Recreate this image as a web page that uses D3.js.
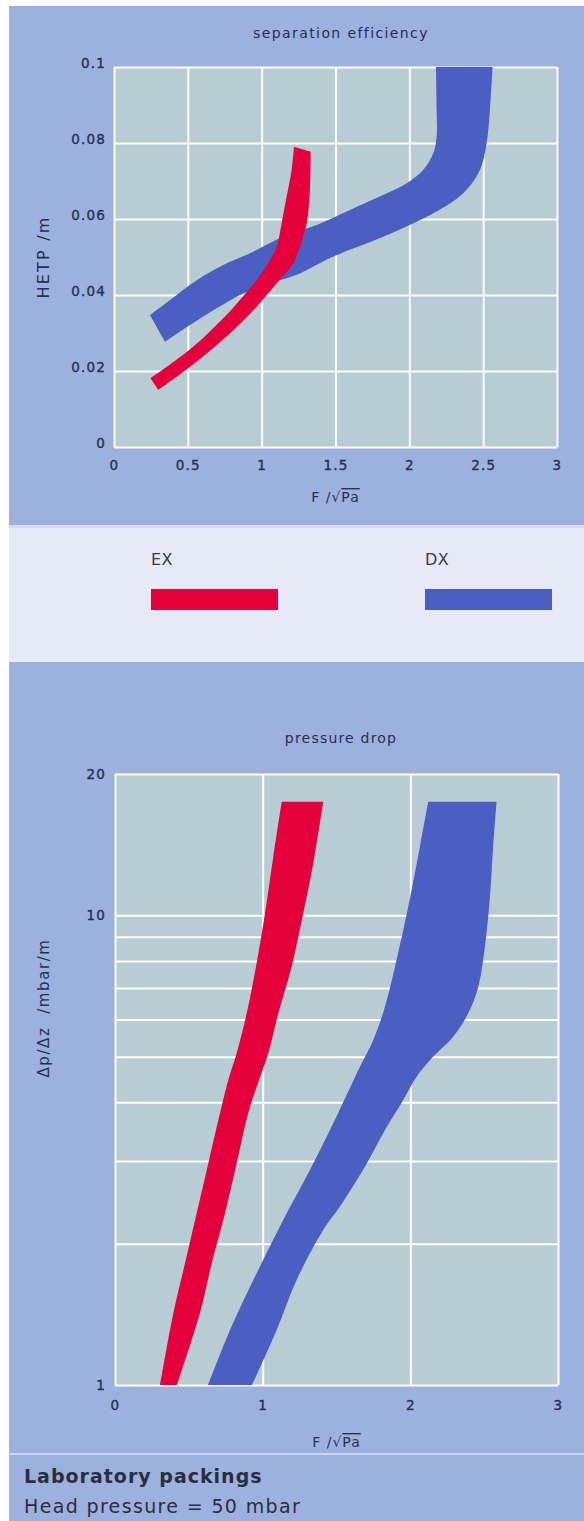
<!DOCTYPE html>
<html>
<head>
<meta charset="utf-8">
<script src="https://cdn.jsdelivr.net/npm/d3@7/dist/d3.min.js"></script>
<style>
  html, body { margin: 0; padding: 0; background: #ffffff; }
  svg { display: block; }
</style>
</head>
<body>
<svg id="chart" width="584" height="1521"></svg>
<script>
// ---- Separation efficiency: HETP band edges, [F-factor, HETP in m] ----
const efficiencyEXUpper = [
  [0.248, 0.0181], [0.515, 0.0257], [0.740, 0.0339], [0.853, 0.0387],
  [0.966, 0.0439], [1.056, 0.0492], [1.102, 0.0527], [1.135, 0.0589],
  [1.169, 0.0659], [1.203, 0.0729], [1.219, 0.0790]
];
const efficiencyEXLower = [
  [0.300, 0.0150], [0.515, 0.0211], [0.785, 0.0299], [0.966, 0.0369],
  [1.102, 0.0431], [1.214, 0.0483], [1.259, 0.0527], [1.305, 0.0589],
  [1.327, 0.0676], [1.332, 0.0777]
];
const efficiencyDXUpper = [
  [0.244, 0.0347], [0.379, 0.0387], [0.560, 0.0439], [0.740, 0.0479],
  [0.921, 0.0510], [1.146, 0.0553], [1.372, 0.0584], [1.598, 0.0624],
  [1.823, 0.0663], [1.982, 0.0694], [2.094, 0.0729], [2.162, 0.0773],
  [2.185, 0.0817], [2.185, 0.0887], [2.180, 0.1000]
];
const efficiencyDXLower = [
  [0.345, 0.0277], [0.515, 0.0321], [0.695, 0.0365], [0.875, 0.0404],
  [1.056, 0.0431], [1.237, 0.0453], [1.485, 0.0501], [1.823, 0.0553],
  [2.162, 0.0615], [2.365, 0.0668], [2.478, 0.0729], [2.523, 0.0799],
  [2.546, 0.0887], [2.564, 0.1000]
];

// ---- Pressure drop: band edges, [F-factor, dp/dz in mbar/m] ----
const pressureEXLeft = [
  [0.305, 1.00], [0.395, 1.421], [0.474, 1.816], [0.553, 2.321],
  [0.632, 2.966], [0.711, 3.790], [0.767, 4.462], [0.824, 5.087],
  [0.892, 6.186], [0.959, 7.907], [1.016, 10.10], [1.072, 13.34],
  [1.129, 17.46]
];
const pressureEXRight = [
  [0.420, 1.00], [0.575, 1.421], [0.655, 1.816], [0.745, 2.321],
  [0.824, 2.966], [0.902, 3.790], [0.975, 4.462], [1.038, 5.087],
  [1.106, 6.186], [1.196, 7.777], [1.275, 10.10], [1.343, 12.91],
  [1.410, 17.46]
];
const pressureDXLeft = [
  [0.630, 1.00], [0.779, 1.310], [0.959, 1.729], [1.139, 2.246],
  [1.320, 2.870], [1.478, 3.608], [1.659, 4.762],
  [1.749, 5.429], [1.828, 6.391], [1.896, 7.777], [1.952, 9.309],
  [2.009, 11.33], [2.065, 14.01], [2.121, 17.46]
];
const pressureDXRight = [
  [0.928, 1.00], [1.095, 1.310], [1.230, 1.673], [1.410, 2.138],
  [1.523, 2.398], [1.699, 2.941], [1.828, 3.491], [1.952, 4.045],
  [2.040, 4.520], [2.155, 5.003], [2.290, 5.516], [2.392, 6.186],
  [2.460, 7.050], [2.505, 8.579], [2.539, 10.96], [2.561, 14.01],
  [2.584, 17.46]
];

// ---- Ticks and labels ----
const efficiencyXTicks = [0, 0.5, 1, 1.5, 2, 2.5, 3];
const efficiencyYTicks = [0, 0.02, 0.04, 0.06, 0.08, 0.1];
const pressureXTicks = [0, 1, 2, 3];
const pressureYGrid = [1, 2, 3, 4, 5, 6, 7, 8, 9, 10, 20];
const pressureYLabels = [1, 10, 20];
const seriesNames = ["EX", "DX"];
const seriesColors = ["#e4003a", "#4a5fc1"];

const FONT = "'DejaVu Sans', 'Liberation Sans', sans-serif";
const INK = "#263050";
const PANEL = "#9db1de";
const PLOT_BG = "#b7cdd3";
const LEGEND_BG = "#e6e9f6";

const svg = d3.select("#chart");

// ---- Background panels ----
svg.append("rect").attr("x", 9).attr("y", 6).attr("width", 575).attr("height", 519).attr("fill", PANEL);
svg.append("rect").attr("x", 9).attr("y", 525).attr("width", 575).attr("height", 3).attr("fill", "#d6def1");
svg.append("rect").attr("x", 9).attr("y", 528).attr("width", 575).attr("height", 134).attr("fill", LEGEND_BG);
svg.append("rect").attr("x", 9).attr("y", 662).attr("width", 575).attr("height", 859).attr("fill", PANEL);
svg.append("rect").attr("x", 9).attr("y", 1453).attr("width", 575).attr("height", 2).attr("fill", "#c9d5ef");

// Builds a filled band from two edge polylines
function bandPath(x, y, edgeA, edgeB) {
  const line = d3.line()
    .x(d => x(d[0]))
    .y(d => y(d[1]))
    .curve(d3.curveCatmullRom.alpha(0.5));
  return line(edgeA) + line(edgeB.slice().reverse()).replace(/^M/, "L") + "Z";
}

function styleAxisText(sel, size) {
  sel.selectAll("text")
    .attr("fill", INK)
    .attr("stroke", INK)
    .attr("stroke-width", 0.35)
    .style("font-family", FONT)
    .style("font-size", size + "px")
    .style("letter-spacing", "1.2px");
}

// ================= Separation efficiency =================
{
  const x = d3.scaleLinear().domain([0, 3]).range([114, 557]);
  const y = d3.scaleLinear().domain([0, 0.1]).range([447, 67]);
  const g = svg.append("g");

  g.append("rect")
    .attr("x", x(0)).attr("y", y(0.1))
    .attr("width", x(3) - x(0)).attr("height", y(0) - y(0.1))
    .attr("fill", PLOT_BG);

  // vertical grid + x labels
  const xAxis = g.append("g")
    .attr("transform", `translate(0,${y(0)})`)
    .call(d3.axisBottom(x).tickValues(efficiencyXTicks)
      .tickSize(-(y(0) - y(0.1))).tickPadding(13)
      .tickFormat(d3.format("~g")));
  xAxis.select(".domain").remove();
  xAxis.selectAll("line").attr("stroke", "#ffffff").attr("stroke-width", 2);
  styleAxisText(xAxis, 13.5);

  // horizontal grid + y labels
  const yAxis = g.append("g")
    .attr("transform", `translate(${x(0)},0)`)
    .call(d3.axisLeft(y).tickValues(efficiencyYTicks)
      .tickSize(-(x(3) - x(0))).tickPadding(8)
      .tickFormat(d3.format("~g")));
  yAxis.select(".domain").remove();
  yAxis.selectAll("line").attr("stroke", "#ffffff").attr("stroke-width", 2);
  styleAxisText(yAxis, 13.5);
  yAxis.selectAll("text").attr("dy", "0.05em");

  g.append("path").attr("d", bandPath(x, y, efficiencyDXUpper, efficiencyDXLower)).attr("fill", seriesColors[1]);
  g.append("path").attr("d", bandPath(x, y, efficiencyEXUpper, efficiencyEXLower)).attr("fill", seriesColors[0]);

  g.append("text")
    .attr("x", 341).attr("y", 38)
    .attr("text-anchor", "middle")
    .attr("fill", INK)
    .style("font-family", FONT).style("font-size", "14px").style("letter-spacing", "1.4px")
    .text("separation efficiency");

  g.append("text")
    .attr("transform", `translate(49,${(y(0) + y(0.1)) / 2}) rotate(-90)`)
    .attr("text-anchor", "middle")
    .attr("fill", INK)
    .style("font-family", FONT).style("font-size", "16px").style("letter-spacing", "2.2px")
    .text("HETP /m");

  const xl = g.append("text")
    .attr("x", (x(0) + x(3)) / 2).attr("y", 502)
    .attr("text-anchor", "middle")
    .attr("fill", INK)
    .style("font-family", FONT).style("font-size", "14px").style("letter-spacing", "1px");
  xl.append("tspan").text("F /√");
  xl.append("tspan").style("text-decoration", "overline").text("Pa");
}

// ================= Legend =================
{
  const legendX = [151, 425];
  seriesNames.forEach((name, i) => {
    svg.append("text")
      .attr("x", legendX[i]).attr("y", 565)
      .attr("fill", "#3a3d4a")
      .style("font-family", FONT).style("font-size", "16px").style("letter-spacing", "0.5px")
      .text(name);
    svg.append("rect")
      .attr("x", legendX[i]).attr("y", 589)
      .attr("width", 127).attr("height", 21)
      .attr("fill", seriesColors[i]);
  });
}

// ================= Pressure drop =================
{
  const x = d3.scaleLinear().domain([0, 3]).range([115, 558]);
  const y = d3.scaleLog().domain([1, 20]).range([1385, 774]);
  const g = svg.append("g");

  g.append("rect")
    .attr("x", x(0)).attr("y", y(20))
    .attr("width", x(3) - x(0)).attr("height", y(1) - y(20))
    .attr("fill", PLOT_BG);

  const xAxis = g.append("g")
    .attr("transform", `translate(0,${y(1)})`)
    .call(d3.axisBottom(x).tickValues(pressureXTicks)
      .tickSize(-(y(1) - y(20))).tickPadding(15)
      .tickFormat(d3.format("d")));
  xAxis.select(".domain").remove();
  xAxis.selectAll("line").attr("stroke", "#ffffff").attr("stroke-width", 2);
  styleAxisText(xAxis, 13.5);

  const yAxis = g.append("g")
    .attr("transform", `translate(${x(0)},0)`)
    .call(d3.axisLeft(y).tickValues(pressureYGrid)
      .tickSize(-(x(3) - x(0))).tickPadding(9)
      .tickFormat(d => pressureYLabels.includes(d) ? String(d) : ""));
  yAxis.select(".domain").remove();
  yAxis.selectAll("line").attr("stroke", "#ffffff").attr("stroke-width", 2);
  styleAxisText(yAxis, 13.5);

  g.append("path").attr("d", bandPath(x, y, pressureDXLeft, pressureDXRight)).attr("fill", seriesColors[1]);
  g.append("path").attr("d", bandPath(x, y, pressureEXLeft, pressureEXRight)).attr("fill", seriesColors[0]);

  g.append("text")
    .attr("x", 341).attr("y", 743)
    .attr("text-anchor", "middle")
    .attr("fill", INK)
    .style("font-family", FONT).style("font-size", "14px").style("letter-spacing", "1.2px")
    .text("pressure drop");

  g.append("text")
    .attr("transform", `translate(49,1008) rotate(-90)`)
    .attr("text-anchor", "middle")
    .attr("fill", INK)
    .style("font-family", FONT).style("font-size", "15px").style("letter-spacing", "1.6px")
    .style("white-space", "pre")
    .text("Δp/Δz  /mbar/m");

  const xl = g.append("text")
    .attr("x", (x(0) + x(3)) / 2).attr("y", 1447)
    .attr("text-anchor", "middle")
    .attr("fill", INK)
    .style("font-family", FONT).style("font-size", "14px").style("letter-spacing", "1px");
  xl.append("tspan").text("F /√");
  xl.append("tspan").style("text-decoration", "overline").text("Pa");
}

// ================= Footer =================
svg.append("text")
  .attr("x", 24).attr("y", 1483)
  .attr("fill", "#2a2f40")
  .style("font-family", FONT).style("font-size", "19px").style("font-weight", "bold")
  .style("letter-spacing", "1px")
  .text("Laboratory packings");
svg.append("text")
  .attr("x", 24).attr("y", 1513)
  .attr("fill", "#2a2f40")
  .style("font-family", FONT).style("font-size", "19px")
  .style("letter-spacing", "1.35px")
  .text("Head pressure = 50 mbar");
</script>
</body>
</html>
